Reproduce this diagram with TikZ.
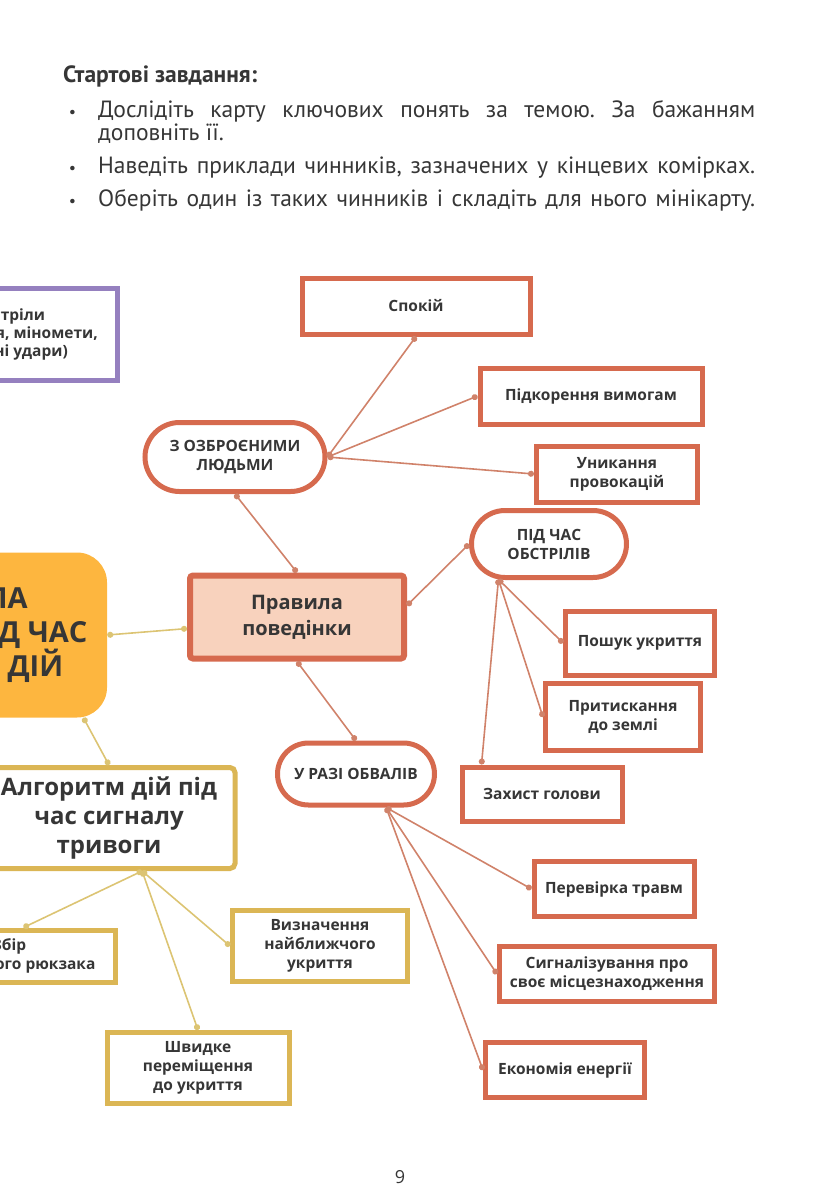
\documentclass[tikz,border=0pt]{standalone}
\usepackage{fontspec}
\setmainfont{Open Sans}
\newfontfamily\taskfont{PT Sans}
\usetikzlibrary{shapes.misc,arrows.meta}
\definecolor{brick}{HTML}{D66A4E}
\definecolor{brickline}{HTML}{D0826A}
\definecolor{peach}{HTML}{F8D2BD}
\definecolor{gold}{HTML}{DBB655}
\definecolor{goldline}{HTML}{DCC473}
\definecolor{amber}{HTML}{FDB63F}
\definecolor{lilac}{HTML}{9580BF}
\definecolor{ink}{HTML}{363636}

\begin{document}
\begin{tikzpicture}[x=1pt, y=1pt,
  box/.style={draw=brick, line width=5pt, fill=white, text=ink, font=\bfseries\fontsize{15.5}{19}\selectfont, align=center, inner sep=2pt},
  pill/.style={box, rounded rectangle},
  goldbox/.style={box, draw=gold},
  link/.style={draw=brickline, line width=1.6pt, {Circle[length=6pt]}-{Circle[length=6pt]}},
  goldlink/.style={link, draw=goldline}]
\useasboundingbox (0, 0) rectangle (818, -1200);
\clip (0, 0) rectangle (818, -1200);

\node [anchor=north west, inner sep=0pt, text width=692pt, align=justify, text=ink, font=\taskfont\fontsize{23.5}{23}\selectfont\frenchspacing] (tasks) at (63, -66)
  {\textbf{Стартові завдання:}
  \begin{list}{\fontsize{16}{16}\selectfont\textbullet}{\leftmargin=35pt \labelwidth=11pt \labelsep=22pt \itemsep=10pt \topsep=12pt \parsep=0pt \partopsep=0pt}
  \item Дослідіть карту ключових понять за темою. За бажанням\linebreak доповніть її.
  \item {\parfillskip=0pt Наведіть приклади чинників, зазначених у кінцевих комірках.\par}
  \item {\parfillskip=0pt Оберіть один із таких чинників і складіть для нього мінікарту.\par}
  \end{list}};

\node [box, draw=lilac, minimum width=219pt, minimum height=92pt, font=\bfseries\fontsize{15.5}{18}\selectfont] (shelling) at (8, -334) {Обстріли\\(артилерія, міномети,\\ракетні удари)};
\node [fill=amber, rounded corners=30pt, minimum width=302pt, minimum height=165pt, text=ink, font=\bfseries\fontsize{29}{34}\selectfont, align=center] (safety) at (-44, -635) {ПРАВИЛА\\БЕЗПЕКИ ПІД ЧАС\\БОЙОВИХ ДІЙ};

\node [box, line width=6pt, fill=peach, rounded corners=3pt, minimum width=214pt, minimum height=83pt, font=\bfseries\fontsize{20}{26}\selectfont] (rules) at (297, -617) {Правила\\поведінки};

\node [pill, minimum width=184pt, minimum height=69pt] (armed) at (235, -457) {З ОЗБРОЄНИМИ\\ЛЮДЬМИ};
\node [box, minimum width=228pt, minimum height=56pt] (calm) at (416, -306) {Спокій};
\node [box, minimum width=222pt, minimum height=56pt] (obey) at (591, -396) {Підкорення вимогам};
\node [box, minimum width=161pt, minimum height=56pt] (avoid) at (617, -474) {Уникання\\провокацій};

\node [pill, minimum width=159pt, minimum height=67pt] (shell) at (549, -544) {ПІД ЧАС\\ОБСТРІЛІВ};
\node [box, minimum width=149pt, minimum height=64pt] (cover) at (640, -643) {Пошук укриття};
\node [box, minimum width=155pt, minimum height=67pt] (ground) at (623, -717) {Притискання\\до землі};
\node [box, minimum width=160pt, minimum height=54pt] (head) at (542, -794) {Захист голови};

\node [pill, minimum width=161pt, minimum height=62pt] (collapse) at (356, -774) {У РАЗІ ОБВАЛІВ};
\node [box, minimum width=160pt, minimum height=55pt] (injury) at (614, -889) {Перевірка травм};
\node [box, minimum width=215pt, minimum height=55pt] (signal) at (607, -974) {Сигналізування про\\своє місцезнаходження};
\node [box, minimum width=159pt, minimum height=55pt] (energy) at (565, -1070) {Економія енергії};

\node [goldbox, rounded corners=5pt, minimum width=252pt, minimum height=101pt, font=\bfseries\fontsize{24}{29}\selectfont] (alarm) at (109, -818) {Алгоритм дій під\\час сигналу\\тривоги};
\node [goldbox, minimum width=212pt, minimum height=52pt] (bag) at (9, -956) {Збір\\тривожного рюкзака};
\node [goldbox, minimum width=175pt, minimum height=71pt] (nearest) at (320, -946) {Визначення\\найближчого\\укриття};
\node [goldbox, minimum width=182pt, minimum height=71pt] (move) at (198, -1068) {Швидке\\переміщення\\до укриття};

\node [text=ink, font=\fontsize{18}{20}\selectfont] (page) at (400, -1177) {9};

\draw [goldlink] (safety.east) -- (rules.186);
\draw [goldlink] (safety.-33) -- (alarm.north);
\draw [link] (rules.north) -- (armed.south);
\draw [link] (armed.east) -- (calm.south);
\draw [link] (armed.east) -- (obey.west);
\draw [link] (armed.east) -- (avoid.west);
\draw [link] (rules.6) -- (shell.west);
\draw [link] (shell.215) -- (cover.west);
\draw [link] (shell.215) -- (ground.west);
\draw [link] (shell.215) -- (head.154);
\draw [link] (rules.south) -- (collapse.north);
\draw [link] (collapse.-48) -- (injury.west);
\draw [link] (collapse.-48) -- (signal.west);
\draw [link] (collapse.-48) -- (energy.west);
\draw [goldlink] (alarm.-58) -- (bag.63);
\draw [goldlink] (alarm.-58) -- (nearest.west);
\draw [goldlink] (alarm.-58) -- (move.north);
\end{tikzpicture}
\end{document}
